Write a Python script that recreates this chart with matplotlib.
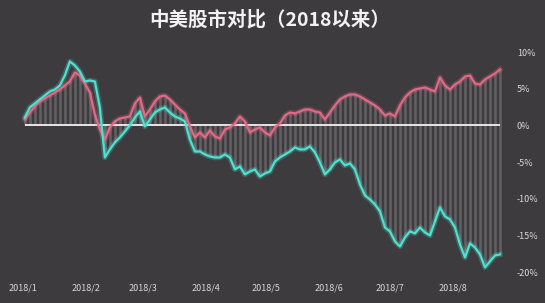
import numpy as np
import pandas as pd
import matplotlib
matplotlib.use('Agg')
import matplotlib.pyplot as plt

plt.rcParams['font.family'] = ['Noto Sans CJK SC', 'DejaVu Sans']

# cumulative return since 2018/1 (%)
china = [1.09, 2.46, 3.00, 3.55, 4.09, 4.64, 4.91, 5.46, 6.82, 8.73,
         8.19, 7.37, 6.00, 6.14, 6.00, 2.46, -4.37, -3.27, -2.32, -1.64,
         -0.82, 0.00, 1.09, 1.91, -0.14, 0.82, 1.77, 2.18, 2.46, 1.77,
         1.23, 0.95, 0.55, -1.91, -3.55, -3.55, -3.96, -4.23, -4.37, -4.37,
         -3.96, -4.37, -6.00, -5.59, -6.68, -6.28, -6.00, -6.96, -6.55, -6.28,
         -4.91, -4.37, -3.96, -3.55, -3.00, -3.27, -3.27, -2.86, -3.68, -5.05,
         -6.68, -6.00, -5.05, -4.64, -5.46, -5.18, -6.00, -8.05, -9.55, -10.10,
         -10.78, -11.73, -13.92, -14.46, -15.83, -16.51, -15.28, -14.46, -14.73, -13.92,
         -14.60, -15.01, -13.10, -11.19, -12.41, -12.82, -13.92, -16.23, -18.01, -16.10,
         -16.64, -17.60, -19.37, -18.55, -17.74, -17.60]
us = [0.82, 1.77, 2.59, 3.27, 3.68, 4.09, 4.50, 4.91, 5.46, 6.00,
      7.23, 6.82, 5.73, 4.50, 1.50, -0.55, -1.91, -0.27, 0.55, 0.95,
      1.09, 1.23, 3.00, 3.82, 1.23, 2.18, 3.27, 3.96, 4.09, 3.55,
      2.86, 2.18, 1.64, -0.14, -1.64, -0.95, -1.64, -0.68, -1.50, -1.77,
      -0.55, -0.27, 0.27, 1.23, 0.55, -0.95, -0.55, -0.27, -0.95, -1.36,
      -0.27, 0.27, 1.36, 1.77, 1.64, 1.91, 2.18, 2.18, 1.91, 1.77,
      0.82, 1.77, 2.73, 3.55, 3.96, 4.23, 4.23, 3.96, 3.55, 3.14,
      2.73, 2.18, 1.36, 1.64, 1.23, 2.73, 3.82, 4.50, 4.91, 5.05,
      5.18, 4.91, 4.64, 6.55, 5.46, 4.91, 5.59, 6.00, 6.68, 6.82,
      5.73, 5.59, 6.28, 6.68, 7.09, 7.64]
month_ticks = ['2018-01-01', '2018-02-01', '2018-03-01', '2018-04-01',
               '2018-05-01', '2018-06-01', '2018-07-01', '2018-08-01']
month_labels = ['2018/1', '2018/2', '2018/3', '2018/4',
                '2018/5', '2018/6', '2018/7', '2018/8']
y_ticks = [10, 5, 0, -5, -10, -15, -20]

dates = pd.date_range('2018-01-02', '2018-08-24', periods=len(china))
china = np.array(china)
us = np.array(us)

bg = '#3d3b3e'
fig = plt.figure(figsize=(5.45, 3.03), dpi=100, facecolor=bg)
ax = fig.add_axes([0.040, 0.078, 0.883, 0.774], facecolor=bg)

# gap bars between the two markets
lo = np.minimum(china, 0)
hi = np.maximum(us, 0)
ax.vlines(dates, lo, hi, color='#d8d0d8', alpha=0.25, lw=1.8, zorder=1)

ax.hlines(0, dates[0], dates[-1], color='#e8e4e8', lw=1.4, zorder=2)

# soft glow under the lines
ax.plot(dates, us, color='#e06a85', lw=4, alpha=0.25, zorder=3)
ax.plot(dates, china, color='#4fe0cf', lw=4, alpha=0.25, zorder=3)
ax.plot(dates, us, color='#e06a85', lw=1.6, zorder=4)
ax.plot(dates, china, color='#4fe0cf', lw=1.6, zorder=5)

ax.set_xlim(dates[0] - pd.Timedelta(days=1.5), dates[-1] + pd.Timedelta(days=1.5))
ax.set_ylim(-21, 11)

ax.yaxis.tick_right()
ax.set_yticks(y_ticks)
ax.set_yticklabels(['%d%%' % v for v in y_ticks])
ax.set_xticks(pd.to_datetime(month_ticks))
ax.set_xticklabels(month_labels)
ax.tick_params(axis='both', length=0, colors='#d8d8d8', labelsize=6.5)
ax.tick_params(axis='y', pad=10)
ax.tick_params(axis='x', pad=3)
for s in ax.spines.values():
    s.set_visible(False)

fig.text(0.495, 0.935, '中美股市对比（2018以来）', ha='center', va='center',
         fontsize=14, fontweight='bold', color='#f2f2f2')

fig.savefig('out.png', dpi=100, facecolor=bg)
